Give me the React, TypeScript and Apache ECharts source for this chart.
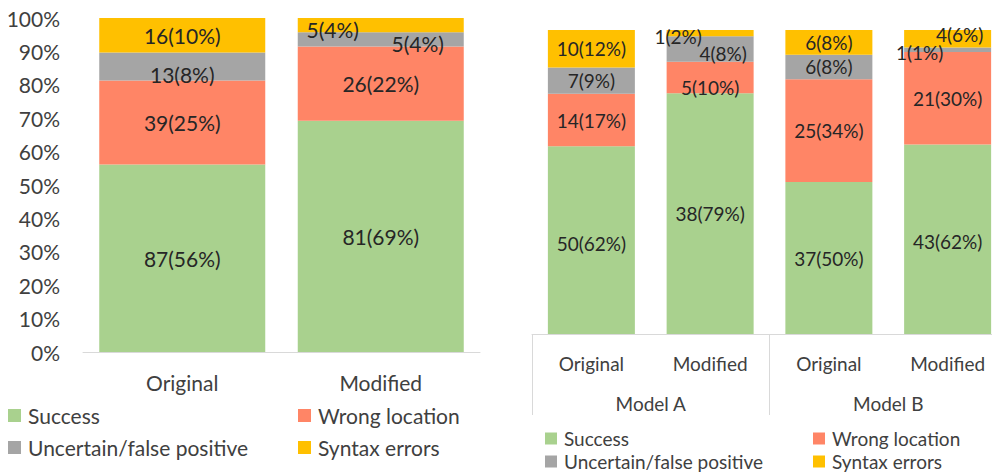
import React, { useEffect, useRef } from "react";
import * as echarts from "echarts";

const seriesNames = ["Success", "Wrong location", "Uncertain/false positive", "Syntax errors"];
const colors = ["#A9D18E", "#FF8566", "#A5A5A5", "#FFC000"];

const leftCategories = ["Original", "Modified"];
const leftSuccess = [87, 81];
const leftWrong = [39, 26];
const leftUncertain = [13, 5];
const leftSyntax = [16, 5];

const rightGroups = ["Model A", "Model B"];
const rightCategories = ["Original", "Modified", "Original", "Modified"];
const rightSuccess = [50, 38, 37, 43];
const rightWrong = [14, 5, 25, 21];
const rightUncertain = [7, 4, 6, 1];
const rightSyntax = [10, 1, 6, 4];

const percentTicks = [0, 10, 20, 30, 40, 50, 60, 70, 80, 90, 100];

// label nudges (dx, dy) per series, per category — layout only
const leftNudges = [
  [[0, 0], [0, 0]],
  [[0, 0], [0, 0]],
  [[0, 8], [37, 4]],
  [[0, 0], [-48, 4]],
];
const rightNudges = [
  [[0, 3], [0, 0], [0, 0], [0, 2]],
  [[0, 0], [0, 10], [0, 0], [0, 0]],
  [[0, 0], [13, 4], [0, 0], [-28, 3]],
  [[0, 0], [-32, 3], [0, 0], [12, -4]],
];

const FONT = "Lato";

function buildSeries(
  groups: number[][],
  nudges: number[][][],
  xAxisIndex: number,
  yAxisIndex: number,
  barWidth: number,
  fontSize: number
) {
  const totals = groups[0].map((_, i) => groups.reduce((s, g) => s + g[i], 0));
  return groups.map((g, si) => ({
    name: seriesNames[si],
    type: "bar",
    stack: "s" + xAxisIndex,
    xAxisIndex,
    yAxisIndex,
    barWidth,
    itemStyle: { color: colors[si] },
    data: g.map((c, i) => ({
      value: (c / totals[i]) * 100,
      label: {
        show: true,
        position: "inside",
        offset: nudges[si][i],
        formatter: `${c}(${Math.round((c / totals[i]) * 100)}%)`,
        color: "#262626",
        fontSize,
        fontFamily: FONT,
      },
    })),
  }));
}

function legendAt(name: string, left: number, top: number, fontSize: number, size: number) {
  return {
    data: [name],
    left,
    top,
    padding: 0,
    itemWidth: size,
    itemHeight: size,
    icon: "rect",
    selectedMode: false,
    textStyle: { fontSize, fontFamily: FONT, color: "#404040", padding: [0, 0, 0, 2] },
  };
}

export default function App() {
  const ref = useRef<HTMLDivElement>(null);
  useEffect(() => {
    if (!ref.current) return;
    const chart = echarts.init(ref.current, undefined, { renderer: "svg" });
    const axisLineColor = "#D9D9D9";
    const option: any = {
      animation: false,
      grid: [
        { left: 83, top: 18, width: 397, height: 334 },
        { left: 532, top: 30, width: 475, height: 304 },
      ],
      xAxis: [
        {
          gridIndex: 0,
          type: "category",
          data: leftCategories,
          axisLine: { show: true, lineStyle: { color: axisLineColor, width: 1 } },
          axisTick: { show: false },
          axisLabel: { margin: 18, fontSize: 21, fontFamily: FONT, color: "#404040", lineHeight: 24 },
        },
        {
          gridIndex: 1,
          type: "category",
          position: "bottom",
          data: rightCategories,
          axisLine: { show: true, lineStyle: { color: axisLineColor, width: 1 } },
          axisTick: { show: false },
          axisLabel: { interval: 0, margin: 17, fontSize: 19, fontFamily: FONT, color: "#404040", lineHeight: 24 },
        },
        {
          gridIndex: 1,
          type: "category",
          position: "bottom",
          data: rightGroups,
          axisLine: { show: false },
          axisTick: { show: true, interval: 0, length: 81, lineStyle: { color: axisLineColor, width: 1 } },
          axisLabel: { interval: 0, margin: 57, fontSize: 19, fontFamily: FONT, color: "#404040", lineHeight: 24 },
        },
      ],
      yAxis: [
        {
          gridIndex: 0,
          type: "value",
          min: percentTicks[0],
          max: percentTicks[percentTicks.length - 1],
          interval: 10,
          splitLine: { show: false },
          axisLine: { show: false },
          axisTick: { show: false },
          axisLabel: { formatter: "{value}%", margin: 23, fontSize: 21, fontFamily: FONT, color: "#404040" },
        },
        {
          gridIndex: 1,
          type: "value",
          min: 0,
          max: 100,
          show: false,
          splitLine: { show: false },
        },
      ],
      legend: [
        legendAt(seriesNames[0], 8, 405, 21, 13),
        legendAt(seriesNames[1], 298, 405, 21, 13),
        legendAt(seriesNames[2], 8, 437, 21, 13),
        legendAt(seriesNames[3], 298, 437, 21, 13),
        legendAt(seriesNames[0], 545, 429, 19, 12),
        legendAt(seriesNames[1], 813, 429, 19, 12),
        legendAt(seriesNames[2], 545, 452, 19, 12),
        legendAt(seriesNames[3], 813, 452, 19, 12),
      ],
      series: [
        ...buildSeries([leftSuccess, leftWrong, leftUncertain, leftSyntax], leftNudges, 0, 0, 166, 21),
        ...buildSeries([rightSuccess, rightWrong, rightUncertain, rightSyntax], rightNudges, 1, 1, 87, 19),
      ],
    };
    chart.setOption(option);
    return () => chart.dispose();
  }, []);
  return (
    <div style={{ position: "absolute", left: 0, top: 0, width: 992, height: 474, overflow: "hidden" }}>
      <div ref={ref} style={{ width: 1010, height: 474 }} />
    </div>
  );
}
